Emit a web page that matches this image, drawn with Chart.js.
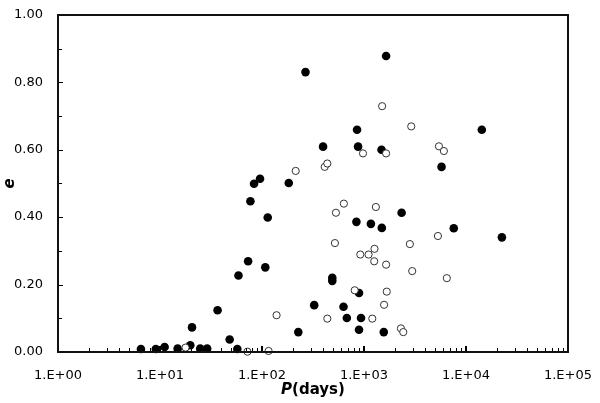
<!DOCTYPE html>
<html>
<head>
<meta charset="utf-8">
<script src="https://cdn.jsdelivr.net/npm/chart.js@4/dist/chart.umd.min.js"></script>
<style>
  html, body { margin: 0; padding: 0; background: #fff; }
  #wrap { position: relative; width: 600px; height: 403px; }
  #frame { position: absolute; box-sizing: border-box; border: 2px solid #111; pointer-events: none; }
</style>
</head>
<body>
<div id="wrap">
  <canvas id="orbitChart" width="600" height="403"></canvas>
  <div id="frame"></div>
</div>
<script>
// Period (days) and eccentricity
const filledP = [6.5, 9.1, 11.1, 14.9, 19.8, 20.6, 24.8, 29.0, 36.7, 48.2, 57.3, 58.8, 73.1, 77.0, 83.6, 95.7,
  107.7, 113.8, 183, 227, 267, 325, 397, 489, 489, 630, 679, 843, 855, 875, 894, 894, 935, 1169, 1486, 1496,
  1563, 1647, 2338, 5760, 7590, 14300, 22500];
const filledE = [0.009, 0.009, 0.015, 0.010, 0.020, 0.073, 0.010, 0.010, 0.124, 0.037, 0.009, 0.227, 0.269, 0.447, 0.499, 0.514,
  0.251, 0.399, 0.501, 0.059, 0.830, 0.139, 0.609, 0.220, 0.211, 0.134, 0.101, 0.386, 0.659, 0.609, 0.175, 0.066, 0.101, 0.380, 0.600, 0.368,
  0.059, 0.878, 0.413, 0.549, 0.367, 0.659, 0.340];

const openP = [17.8, 72, 116, 139, 214, 412, 437, 437, 519, 531, 635, 811, 920, 978, 1109, 1206, 1259, 1268, 1308,
  1506, 1574, 1647, 1672, 1648, 2302, 2427, 2818, 2906, 2970, 5310, 5430, 6070, 6490];
const openE = [0.013, 0.001, 0.003, 0.109, 0.537, 0.549, 0.559, 0.099, 0.323, 0.413, 0.440, 0.183, 0.289, 0.589, 0.289, 0.099, 0.269, 0.306, 0.430,
  0.729, 0.140, 0.589, 0.179, 0.259, 0.070, 0.059, 0.320, 0.669, 0.240, 0.344, 0.610, 0.596, 0.219];

const yTicks = [0, 0.2, 0.4, 0.6, 0.8, 1.0];
const xDecades = [1, 10, 100, 1000, 10000, 100000];

const FONT = '"DejaVu Sans", Verdana, sans-serif';

function toPoints(xs, ys) {
  return xs.map((x, i) => ({ x: x, y: ys[i] }));
}

// Inward tick marks and axis titles
const tickPlugin = {
  id: 'inwardTicks',
  afterDraw(chart) {
    const ctx = chart.ctx;
    const a = chart.chartArea;
    const sx = chart.scales.x;
    const sy = chart.scales.y;
    ctx.save();
    ctx.fillStyle = '#000';

    // y ticks every 0.1
    for (let i = 0; i <= 10; i++) {
      const py = Math.round(sy.getPixelForValue(i / 10));
      ctx.fillRect(a.left, py, i % 2 === 0 ? 5 : 4, 1);
    }
    // x ticks, log minors
    for (let d = 0; d < xDecades.length; d++) {
      for (let m = 1; m <= 9; m++) {
        const v = xDecades[d] * m;
        if (v > 100000) break;
        const px = Math.round(sx.getPixelForValue(v));
        if (m === 1) ctx.fillRect(px - 1, a.bottom - 6, 2, 6);
        else ctx.fillRect(px, a.bottom - 4, 1, 4);
      }
    }

    // x title: italic P + (days)
    ctx.textBaseline = 'middle';
    ctx.textAlign = 'left';
    ctx.font = 'italic bold 15px ' + FONT;
    const pW = ctx.measureText('P').width;
    ctx.font = 'bold 15px ' + FONT;
    const dW = ctx.measureText('(days)').width;
    const tx = (a.left + a.right) / 2 - (pW + dW) / 2;
    ctx.font = 'italic bold 15px ' + FONT;
    ctx.fillText('P', tx, 390);
    ctx.font = 'bold 15px ' + FONT;
    ctx.fillText('(days)', tx + pW, 390);

    // y title: e
    ctx.translate(10, (a.top + a.bottom) / 2);
    ctx.rotate(-Math.PI / 2);
    ctx.textAlign = 'center';
    ctx.font = 'italic bold 15px ' + FONT;
    ctx.fillText('e', 0, 0);
    ctx.restore();
  }
};

const chart = new Chart(document.getElementById('orbitChart'), {
  type: 'scatter',
  data: {
    datasets: [{
      label: 'Open',
      data: toPoints(openP, openE),
      pointRadius: 3.6,
      pointBackgroundColor: '#fff',
      pointBorderColor: '#333',
      pointBorderWidth: 1,
      clip: false
    }, {
      label: 'Filled',
      data: toPoints(filledP, filledE),
      pointRadius: 4.3,
      pointBackgroundColor: '#000',
      pointBorderColor: '#000',
      pointBorderWidth: 0,
      clip: false
    }]
  },
  options: {
    responsive: false,
    animation: false,
    layout: { padding: { top: -3, right: 22, left: 0, bottom: 0 } },
    plugins: {
      legend: { display: false },
      tooltip: { enabled: false }
    },
    scales: {
      x: {
        type: 'logarithmic',
        min: 1,
        max: 100000,
        grid: { display: false },
        border: { display: true, color: '#000', width: 2 },
        afterFit(scale) { scale.height = 51; },
        afterBuildTicks(scale) {
          scale.ticks = xDecades.map(v => ({ value: v }));
        },
        ticks: {
          autoSkip: false,
          maxRotation: 0,
          padding: 8,
          color: '#000',
          font: { family: FONT, size: 13 },
          callback: (v) => '1.E+' + String(Math.round(Math.log10(v))).padStart(2, '0')
        }
      },
      y: {
        min: 0,
        max: 1,
        grid: { display: false },
        border: { display: true, color: '#000', width: 2 },
        afterFit(scale) { scale.width = 58; },
        afterBuildTicks(scale) {
          scale.ticks = yTicks.map(v => ({ value: v }));
        },
        ticks: {
          padding: 7,
          color: '#000',
          font: { family: FONT, size: 13 },
          callback: (v) => Number(v).toFixed(2)
        }
      }
    }
  },
  plugins: [tickPlugin]
});

// nudge the layout padding so the plot box sits where the reference has it
try {
  for (let k = 0; k < 3; k++) {
    const a = chart.chartArea;
    const pad = chart.config.options.layout.padding;
    pad.top += 10 - a.top;
    pad.right += a.right - 573;
    chart.update();
  }
} catch (e) {
  console.error('Layout nudge failed:', e);
}

// box around the plot area, placed from the chart's own area
const area = chart.chartArea;
const frame = document.getElementById('frame');
frame.style.left = (area.left - 1) + 'px';
frame.style.top = (area.top - 1) + 'px';
frame.style.width = (area.right - area.left + 2) + 'px';
frame.style.height = (area.bottom - area.top + 2) + 'px';
</script>
</body>
</html>
